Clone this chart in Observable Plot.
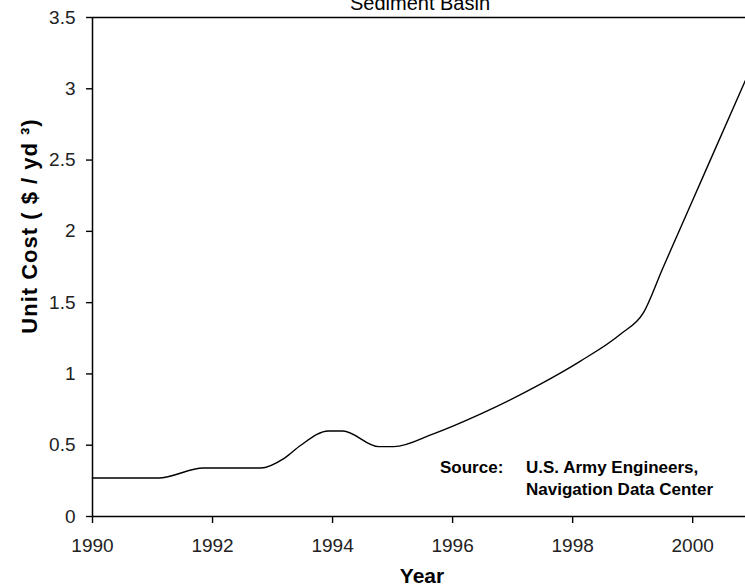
<!DOCTYPE html>
<html>
<head>
<meta charset="utf-8">
<script src="https://cdn.jsdelivr.net/npm/d3@7"></script>
<script src="https://cdn.jsdelivr.net/npm/@observablehq/plot@0.6"></script>
<style>
  html, body { margin: 0; padding: 0; background: #fff; }
  #chart { width: 745px; height: 587px; overflow: hidden; }
</style>
</head>
<body>
<div id="chart"></div>
<script>
// Data
const years = [1990, 1991.1, 1991.85, 1992.8, 1993.2, 1993.47, 1993.93, 1994.17, 1994.77, 1995.02, 1995.68, 1996.47, 1997.47, 1998.13, 1998.8, 1999.18, 1999.5, 2000.2, 2000.88];
const unitCost = [0.27, 0.27, 0.34, 0.34, 0.41, 0.50, 0.60, 0.60, 0.49, 0.49, 0.58, 0.72, 0.93, 1.09, 1.28, 1.43, 1.74, 2.41, 3.06];
const xTicks = [1990, 1992, 1994, 1996, 1998, 2000];
const yTicks = [0, 0.5, 1, 1.5, 2, 2.5, 3, 3.5];
const title = "Sediment Basin";
const xLabel = "Year";
const yLabel = "Unit Cost ( $ / yd \u00B3)";
const sourceLabel = "Source:";
const sourceLines = ["U.S. Army Engineers,", "Navigation Data Center"];

const data = years.map((y, i) => ({year: y, cost: unitCost[i]}));

const font = "'Liberation Sans', Arial, sans-serif";

const chart = Plot.plot({
  width: 745,
  height: 587,
  marginLeft: 92,
  marginRight: 0,
  marginTop: 17,
  marginBottom: 71,
  style: {fontFamily: font, fontSize: "16px", color: "#222", background: "#fff", overflow: "visible"},
  x: {domain: [1990, 2000.88], label: null},
  y: {domain: [0, 3.5], label: null},
  marks: [
    Plot.axisX({ticks: xTicks, tickFormat: d => String(d), tickSize: 7, tickPadding: 15, fontSize: 19, stroke: "#000", strokeWidth: 1.4, fill: "#222", label: null}),
    Plot.axisY({ticks: yTicks, tickFormat: d => String(d), tickSize: 6, tickPadding: 11, fontSize: 19, stroke: "#000", strokeWidth: 1.4, fill: "#222", label: null}),
    Plot.ruleX([1990], {stroke: "#000", strokeWidth: 1.5}),
    Plot.ruleY([0, 3.5], {stroke: "#000", strokeWidth: 1.5}),
    Plot.line(data, {x: "year", y: "cost", stroke: "#000", strokeWidth: 1.4, curve: "monotone-x"})
  ]
});

const svg = d3.select(chart);

svg.append("text")
  .attr("x", 420).attr("y", 10)
  .attr("text-anchor", "middle")
  .attr("font-family", font)
  .attr("font-size", 20).attr("fill", "#000")
  .text(title);
svg.append("text")
  .attr("x", 422).attr("y", 583)
  .attr("text-anchor", "middle")
  .attr("font-family", font)
  .attr("font-size", 21).attr("font-weight", "bold").attr("fill", "#000")
  .text(xLabel);
svg.append("text")
  .attr("transform", "translate(37,226) rotate(-90)")
  .attr("text-anchor", "middle")
  .attr("font-family", font)
  .attr("letter-spacing", 1)
  .attr("font-size", 22).attr("font-weight", "bold").attr("fill", "#000")
  .text(yLabel);

// Source annotation
const src = svg.append("g")
  .attr("text-anchor", "start")
  .attr("font-family", font).attr("font-size", 17).attr("font-weight", "bold").attr("fill", "#000");
src.append("text").attr("x", 440).attr("y", 473).text(sourceLabel);
sourceLines.forEach((t, i) => {
  src.append("text").attr("x", 526).attr("y", 473 + 22 * i).text(t);
});

document.getElementById("chart").appendChild(chart);
</script>
</body>
</html>
